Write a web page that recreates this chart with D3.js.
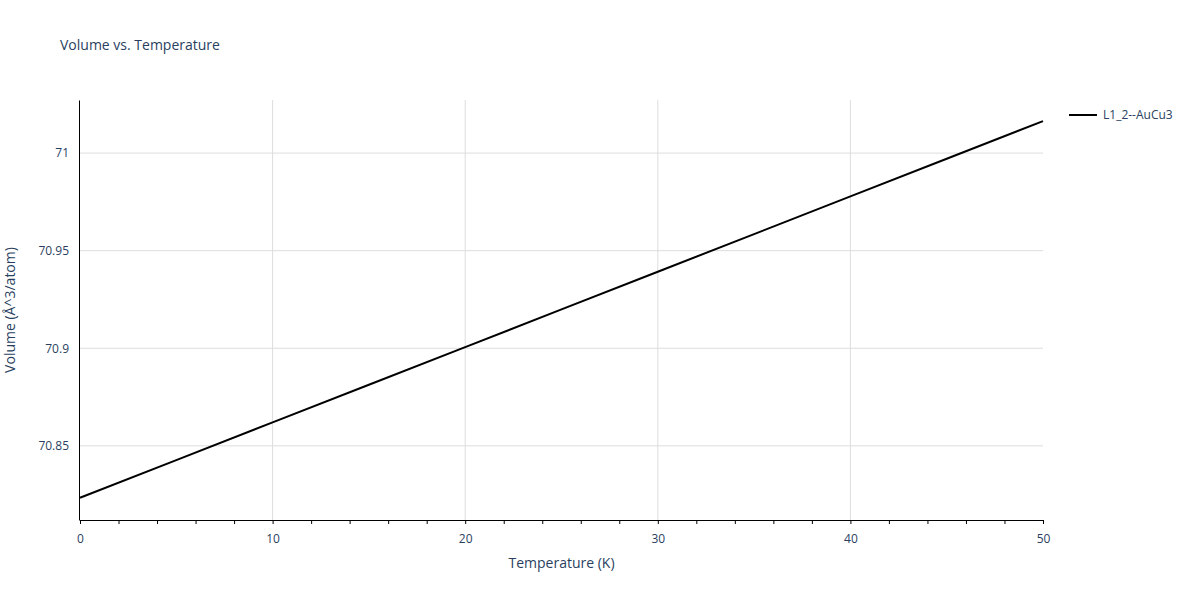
<!DOCTYPE html>
<html>
<head>
<meta charset="utf-8">
<script src="https://d3js.org/d3.v7.min.js"></script>
<style>
body { margin: 0; background: #fff; }
text { font-family: "Open Sans", sans-serif; fill: #2a3f5f; }
</style>
</head>
<body>
<script>
// data
var temps = [0, 5, 10, 15, 20, 25, 30, 35, 40, 45, 50];
var volumes = [70.8234, 70.8427, 70.8620, 70.8813, 70.9006, 70.9199, 70.9392, 70.9585, 70.9778, 70.9971, 71.0164];
var xTicks = [0, 10, 20, 30, 40, 50];
var yTicks = [70.85, 70.9, 70.95, 71];
var seriesName = "L1_2--AuCu3";

var W = 1200, H = 600;
var m = {left: 80, right: 157, top: 100, bottom: 80};

var svg = d3.select("body").append("svg").attr("width", W).attr("height", H);

var x = d3.scaleLinear().domain([0, 50]).range([m.left, W - m.right]);
var y = d3.scaleLinear().domain([70.812, 71.0272]).range([H - m.bottom, m.top]);

// grid
svg.selectAll("line.vg").data(xTicks.slice(1, -1)).enter().append("line")
	.attr("x1", d => x(d)).attr("x2", d => x(d))
	.attr("y1", m.top).attr("y2", H - m.bottom)
	.attr("stroke", "#ddd");
svg.selectAll("line.hg").data(yTicks).enter().append("line")
	.attr("x1", m.left).attr("x2", W - m.right)
	.attr("y1", d => y(d)).attr("y2", d => y(d))
	.attr("stroke", "#ddd");

// axes
var xa = svg.append("g").attr("transform", "translate(0," + (H - m.bottom) + ")")
	.call(d3.axisBottom(x).tickValues(xTicks).tickSize(0).tickPadding(14));
xa.select(".domain").attr("stroke", "#000");
xa.selectAll("text").attr("font-size", 12).style("fill", "#2a3f5f");
svg.append("g").attr("transform", "translate(0," + (H - m.bottom) + ")")
	.call(d3.axisBottom(x).tickValues(d3.range(0, 51, 2)).tickSize(4).tickFormat(""))
	.select(".domain").remove();

var ya = svg.append("g").attr("transform", "translate(" + (m.left - 1) + ",0)")
	.call(d3.axisLeft(y).tickValues(yTicks).tickSize(0).tickPadding(10).tickFormat(d3.format("")));
ya.select(".domain").attr("stroke", "#000");
ya.selectAll("text").attr("font-size", 12).style("fill", "#2a3f5f");

// line
svg.append("path")
	.datum(temps.map((t, i) => [t, volumes[i]]))
	.attr("fill", "none").attr("stroke", "#000").attr("stroke-width", 2)
	.attr("d", d3.line().x(d => x(d[0])).y(d => y(d[1])));

// titles
svg.append("text").attr("x", 60).attr("y", 50).attr("font-size", 14).text("Volume vs. Temperature");
svg.append("text").attr("x", (m.left + W - m.right) / 2).attr("y", 568)
	.attr("text-anchor", "middle").attr("font-size", 14).text("Temperature (K)");
svg.append("text").attr("transform", "translate(15," + ((m.top + H - m.bottom) / 2) + ") rotate(-90)")
	.attr("text-anchor", "middle").attr("font-size", 14).text("Volume (Å^3/atom)");

// legend
svg.append("line").attr("x1", 1069).attr("x2", 1097).attr("y1", 115).attr("y2", 115)
	.attr("stroke", "#000").attr("stroke-width", 2);
svg.append("text").attr("x", 1103).attr("y", 119).attr("font-size", 12).text(seriesName);
</script>
</body>
</html>
